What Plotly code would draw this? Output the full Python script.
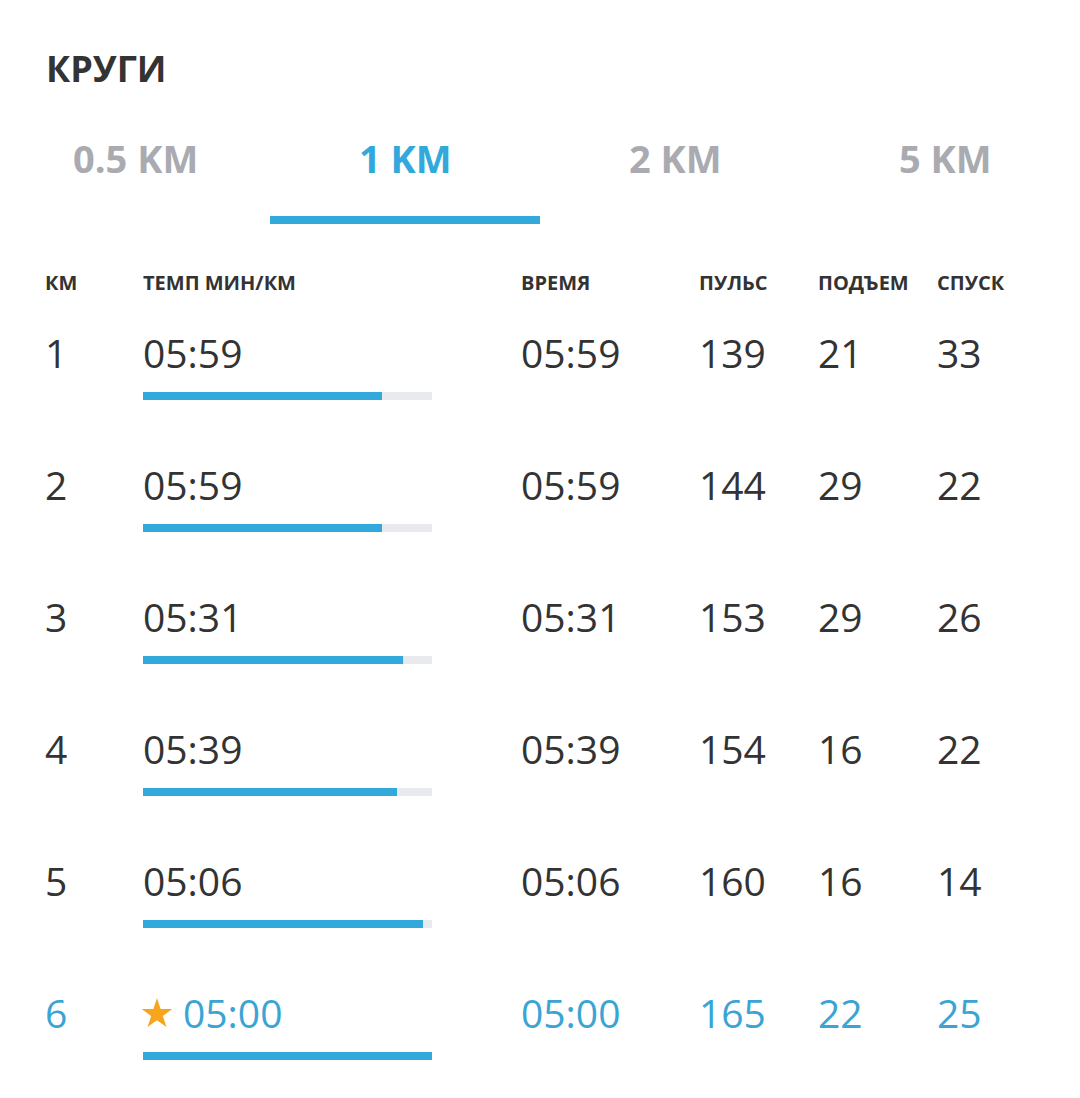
import plotly.graph_objects as go

# data
title = "КРУГИ"
tabs = ["0.5 KM", "1 KM", "2 KM", "5 KM"]
active_tab = 1
headers = ["КМ", "ТЕМП МИН/КМ", "ВРЕМЯ", "ПУЛЬС", "ПОДЪЕМ", "СПУСК"]
km = ["1", "2", "3", "4", "5", "6"]
pace = ["05:59", "05:59", "05:31", "05:39", "05:06", "05:00"]
lap_time = ["05:59", "05:59", "05:31", "05:39", "05:06", "05:00"]
pulse = [139, 144, 153, 154, 160, 165]
ascent = [21, 29, 29, 16, 16, 22]
descent = [33, 22, 26, 22, 14, 25]
pace_bar = [0.827, 0.827, 0.900, 0.879, 0.969, 1.0]  # share of the bar filled
best_lap = 5

W, H = 1080, 1098
OFF = 8  # page body margin, so axis units match screen pixels
DARK = "#333333"
BLUE = "#33a8da"
BLUE_TXT = "#3aa4d4"
GREY = "#a9abb1"
TRACK = "#e8eaed"
FONT = "Open Sans"

col_x = [45, 143, 521, 699, 818, 937]
row_y0, row_step = 358, 132
rows_y = [row_y0 + i * row_step for i in range(len(km))]
bar_y = [y + 38 for y in rows_y]
track_x0, track_w = 143, 289

fig = go.Figure()

# grey tracks under the pace bars
fig.add_trace(go.Bar(
    orientation="h", y=bar_y, x=[track_w] * len(km), base=track_x0,
    width=8, marker=dict(color=TRACK, line_width=0), hoverinfo="skip",
))
# filled pace bars
fig.add_trace(go.Bar(
    orientation="h", y=bar_y, x=[f * track_w for f in pace_bar], base=track_x0,
    width=8, marker=dict(color=BLUE, line_width=0),
    hovertext=pace, hoverinfo="text",
))

row_colors = [BLUE_TXT if i == best_lap else DARK for i in range(len(km))]
pace_x = [col_x[1] + (40 if i == best_lap else 0) for i in range(len(km))]

columns = [
    (col_x[0], km),
    (None, pace),
    (col_x[2], lap_time),
    (col_x[3], [str(v) for v in pulse]),
    (col_x[4], [str(v) for v in ascent]),
    (col_x[5], [str(v) for v in descent]),
]
for x, vals in columns:
    xs = pace_x if x is None else [x] * len(vals)
    fig.add_trace(go.Scatter(
        x=xs, y=rows_y, mode="text", text=vals, textposition="middle right",
        textfont=dict(family=FONT, size=39, color=row_colors), hoverinfo="skip",
    ))

# star for the fastest lap
fig.add_trace(go.Scatter(
    x=[col_x[1] + 14], y=[rows_y[best_lap] - 4], mode="markers",
    marker=dict(symbol="star", size=23, color="#f7a51c", line_width=0),
    hoverinfo="skip",
))

# column headers
fig.add_trace(go.Scatter(
    x=col_x, y=[285] * len(headers), mode="text", text=headers,
    textposition="middle right",
    textfont=dict(family=FONT, size=20, color=DARK, weight="bold"),
    hoverinfo="skip",
))

# title
fig.add_annotation(x=44, y=68, text="<b>" + title + "</b>", showarrow=False,
                   xanchor="left", yanchor="middle",
                   font=dict(family=FONT, size=36, color=DARK))

# tabs
for i, t in enumerate(tabs):
    fig.add_annotation(x=135 + 270 * i, y=158, text="<b>" + t + "</b>",
                       showarrow=False, xanchor="center", yanchor="middle",
                       font=dict(family=FONT, size=38,
                                 color=BLUE if i == active_tab else GREY))
fig.add_shape(type="rect", x0=270 * active_tab, x1=270 * (active_tab + 1),
              y0=216, y1=224, fillcolor=BLUE, line_width=0)

fig.update_xaxes(range=[OFF, W], visible=False, fixedrange=True)
fig.update_yaxes(range=[H, OFF], visible=False, fixedrange=True)
fig.update_layout(
    width=W - OFF, height=H - OFF, margin=dict(l=0, r=0, t=0, b=0),
    paper_bgcolor="white", plot_bgcolor="white",
    showlegend=False, barmode="overlay",
)

fig.write_html("out.html")
